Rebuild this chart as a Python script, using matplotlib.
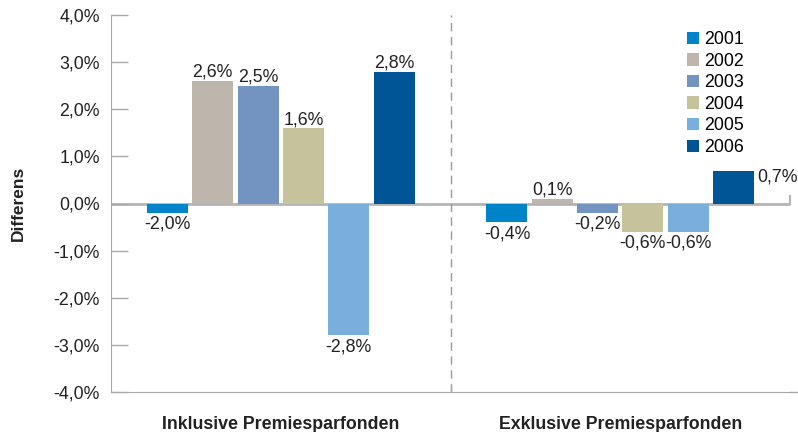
import numpy as np
from matplotlib import pyplot as plt

plt.rcParams['font.family'] = ['Liberation Sans', 'DejaVu Sans']

groups = ["Inklusive Premiesparfonden", "Exklusive Premiesparfonden"]
years = ["2001", "2002", "2003", "2004", "2005", "2006"]
# bar heights as drawn (percent)
inklusive = [-0.2, 2.6, 2.5, 1.6, -2.8, 2.8]
exklusive = [-0.4, 0.1, -0.2, -0.6, -0.6, 0.7]
# labels as printed on the chart
inklusive_labels = ["-2,0%", "2,6%", "2,5%", "1,6%", "-2,8%", "2,8%"]
exklusive_labels = ["-0,4%", "0,1%", "-0,2%", "-0,6%", "-0,6%", "0,7%"]
colors = ["#0084C9", "#BEB6AC", "#7394C1", "#C5C29C", "#7AAFDD", "#005596"]
yticks = [-4, -3, -2, -1, 0, 1, 2, 3, 4]

gray = "#A8A8A8"
fs = 12.8

fig = plt.figure(figsize=(7.98, 4.32), dpi=100)
ax = fig.add_axes([111 / 798, 40 / 432, 679 / 798, 377 / 432])

x = np.arange(len(groups))
step = 0.1335
width = 0.121
values = np.array([inklusive, exklusive])
labels = [inklusive_labels, exklusive_labels]

for i, year in enumerate(years):
    pos = x + (i - 2.5) * step
    vals = values[:, i]
    ax.bar(pos, vals, width, color=colors[i], label=year, zorder=2)
    for g in range(len(groups)):
        v = vals[g]
        txt = labels[g][i]
        if g == 1 and i == 5:
            ax.annotate(txt, (pos[g] + width / 2, v), xytext=(2, -5),
                        textcoords="offset points", ha="left", va="center",
                        fontsize=fs, color="#222222")
        elif v >= 0:
            ax.annotate(txt, (pos[g], v), xytext=(0, 0),
                        textcoords="offset points", ha="center", va="bottom",
                        fontsize=fs, color="#222222")
        else:
            ax.annotate(txt, (pos[g], v), xytext=(0, -2),
                        textcoords="offset points", ha="center", va="top",
                        fontsize=fs, color="#222222")

ax.set_xlim(-0.5, 1.5)
ax.set_ylim(-4, 4)
ax.set_yticks(yticks)
ax.set_yticklabels([("%.1f%%" % t).replace(".", ",") for t in yticks])
ax.tick_params(axis="y", direction="in", length=12, width=1, color=gray,
               labelsize=fs, labelcolor="#222222", pad=8)
ax.set_xticks(x)
ax.set_xticklabels(groups, fontsize=12.8, fontweight="bold", color="#222222")
ax.tick_params(axis="x", length=0, pad=17)

for s in ["top", "right"]:
    ax.spines[s].set_visible(False)
ax.spines["left"].set_color(gray)
ax.spines["bottom"].set_color(gray)

# zero line with end tick, divider and bottom extension
ax.plot([-0.5, 1.5], [0, 0], color="#B4B4B4", lw=2, zorder=1)
ax.plot([1.5, 1.5], [0, 0.15], color="#B4B4B4", lw=1.5, clip_on=False)
ax.axvline(0.5, color="#999999", lw=1, ls=(0, (6, 4)), zorder=1)
ax.plot([1.5, 1.55], [-4, -4], color=gray, lw=1, clip_on=False)
ax.plot([0.5, 0.5], [-4, -3.88], color=gray, lw=1)

ax.set_ylabel("Differens", fontsize=12.5, fontweight="bold", color="#222222")
ax.yaxis.set_label_coords(-0.125, 0.5)

ax.legend(loc="upper left", bbox_to_anchor=(687 / 798, 1 - 31 / 432),
          bbox_transform=fig.transFigure, frameon=False, fontsize=fs,
          handlelength=0.7, handleheight=0.7, handletextpad=0.25,
          labelspacing=0.26, borderpad=0, borderaxespad=0)

plt.savefig("out.png", dpi=100)
